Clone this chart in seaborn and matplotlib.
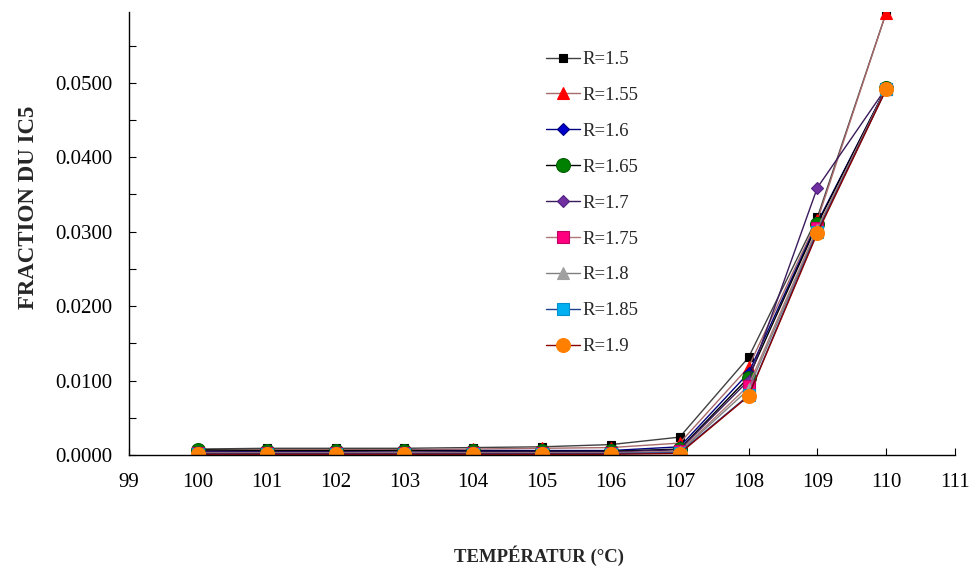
import matplotlib
matplotlib.use("Agg")
import matplotlib.pyplot as plt
import seaborn as sns
import numpy as np
import pandas as pd
from matplotlib.ticker import MultipleLocator, FormatStrFormatter

temps = [100, 101, 102, 103, 104, 105, 106, 107, 108, 109, 110]
labels = ["R=1.5", "R=1.55", "R=1.6", "R=1.65", "R=1.7", "R=1.75", "R=1.8", "R=1.85", "R=1.9"]
r150 = [0.0008, 0.0009, 0.0009, 0.0009, 0.0010, 0.0011, 0.0014, 0.0024, 0.0131, 0.0319, 0.0594]
r155 = [0.0006, 0.0007, 0.0007, 0.0007, 0.0008, 0.0009, 0.0010, 0.0016, 0.0118, 0.0315, 0.0594]
r160 = [0.0005, 0.0005, 0.0005, 0.0006, 0.0006, 0.0006, 0.0006, 0.0011, 0.0110, 0.0312, 0.0493]
r165 = [0.0007, 0.0006, 0.0006, 0.0006, 0.0005, 0.0005, 0.0005, 0.0008, 0.0104, 0.0310, 0.0493]
r170 = [0.0004, 0.0004, 0.0004, 0.0004, 0.0004, 0.0004, 0.0004, 0.0007, 0.0100, 0.0359, 0.0493]
r175 = [0.0003, 0.0003, 0.0003, 0.0003, 0.0003, 0.0003, 0.0003, 0.0005, 0.0093, 0.0305, 0.0492]
r180 = [0.0002, 0.0002, 0.0002, 0.0002, 0.0002, 0.0002, 0.0002, 0.0004, 0.0088, 0.0302, 0.0492]
r185 = [0.0002, 0.0002, 0.0002, 0.0002, 0.0002, 0.0002, 0.0002, 0.0003, 0.0080, 0.0300, 0.0491]
r190 = [0.0001, 0.0001, 0.0001, 0.0001, 0.0001, 0.0001, 0.0001, 0.0002, 0.0079, 0.0298, 0.0491]
series = [r150, r155, r160, r165, r170, r175, r180, r185, r190]

styles = [
    dict(color="#404040", marker="s", mfc="black", mec="black", ms=6),
    dict(color="#a86a6a", marker="^", mfc="#ff0000", mec="#ff0000", ms=9),
    dict(color="#000080", marker="D", mfc="#0000cc", mec="#000080", ms=6),
    dict(color="#000000", marker="o", mfc="#008000", mec="#006000", ms=10),
    dict(color="#3a1a5a", marker="D", mfc="#7030a0", mec="#502080", ms=6),
    dict(color="#b07878", marker="s", mfc="#ff0080", mec="#c00060", ms=8),
    dict(color="#808080", marker="^", mfc="#a0a0a0", mec="#a0a0a0", ms=8),
    dict(color="#1f3f8f", marker="s", mfc="#00b0f0", mec="#0090d0", ms=8),
    dict(color="#8b0000", marker="o", mfc="#ff8000", mec="#ff8000", ms=10),
]

sns.set_style("ticks")
plt.rcParams["font.family"] = ["Liberation Serif", "DejaVu Serif"]

fig = plt.figure(figsize=(9.73, 5.67), dpi=100)
ax = fig.add_axes([129/973, (567-455)/567, (955-129)/973, (455-12)/567])

for lab, vals, st in zip(labels, series, styles):
    df = pd.DataFrame({"T": temps, "v": vals})
    sns.lineplot(data=df, x="T", y="v", ax=ax, color=st["color"], marker=st["marker"],
                 markerfacecolor=st["mfc"], markeredgecolor=st["mec"], markersize=st["ms"],
                 markeredgewidth=0.8, linewidth=1.0, label=lab)

ax.set_xlim(99, 111)
ax.set_ylim(0, 0.0595)
ax.xaxis.set_major_locator(MultipleLocator(1))
ax.xaxis.set_major_formatter(FormatStrFormatter("%d"))
ax.yaxis.set_major_locator(MultipleLocator(0.01))
ax.yaxis.set_minor_locator(MultipleLocator(0.005))
ax.yaxis.set_major_formatter(FormatStrFormatter("%.4f"))
ax.tick_params(axis="both", which="both", direction="in", length=5, width=0.8, labelsize=15, colors="black")
ax.tick_params(axis="x", pad=13)
ax.tick_params(axis="y", pad=12)
for s in ["top", "right"]:
    ax.spines[s].set_visible(False)
for s in ["left", "bottom"]:
    ax.spines[s].set_color("black")
    ax.spines[s].set_linewidth(1.0)

ax.set_xlabel("TEMPÉRATUR (°C)", fontsize=13.5, fontweight="bold")
ax.xaxis.set_label_coords((539-129)/826, (455-545)/443)
ax.set_ylabel("FRACTION DU IC5", fontsize=16.5, fontweight="bold")
ax.yaxis.set_label_coords((39-129)/826, (455-207)/443)

leg = ax.legend(loc="upper left", bbox_to_anchor=((546-129)/826, (455-51)/443), frameon=False, fontsize=13.5,
                handlelength=1.8, handletextpad=0.15, labelspacing=1.0, borderpad=0, borderaxespad=0)

fig.savefig("out.png", dpi=100)
